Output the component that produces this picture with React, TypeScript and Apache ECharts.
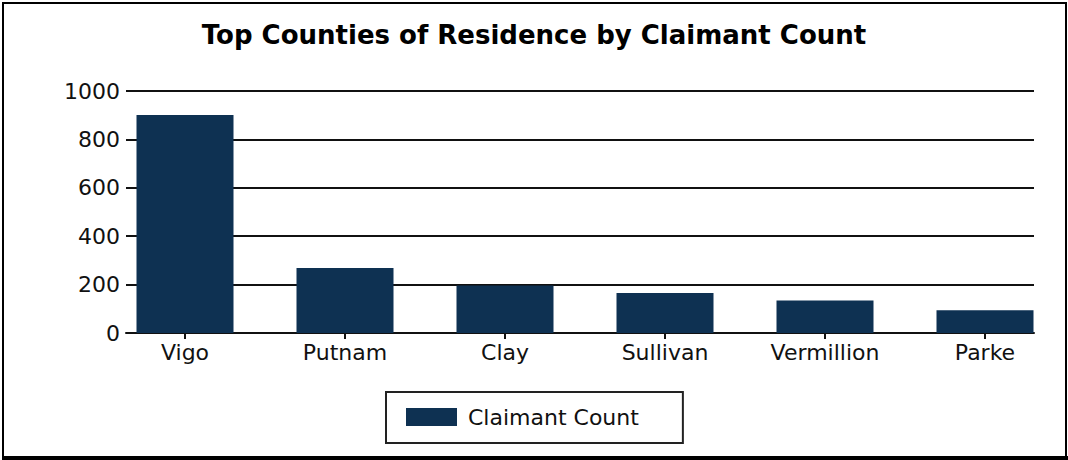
import React, { useEffect, useRef } from "react";
import * as echarts from "echarts";

const categories = ["Vigo", "Putnam", "Clay", "Sullivan", "Vermillion", "Parke"];
const claimantCount = [901, 269, 196, 165, 134, 94];
const yTicks = [0, 200, 400, 600, 800, 1000];
const titleText = "Top Counties of Residence by Claimant Count";
const seriesName = "Claimant Count";

const FONT = "DejaVu Sans";
const BAR = "#0e3152";

export default function App() {
  const ref = useRef<HTMLDivElement>(null);
  useEffect(() => {
    const chart = echarts.init(ref.current!, null, { renderer: "svg" });
    chart.setOption({
      animation: false,
      backgroundColor: "#fff",
      title: {
        text: titleText,
        left: "center",
        top: 17,
        textStyle: { fontFamily: FONT, fontSize: 26, fontWeight: "bold", color: "#000" },
      },
      legend: {
        data: [seriesName],
        left: 386,
        top: 392,
        orient: "horizontal",
        padding: [14, 44, 15, 20],
        borderColor: "#222",
        borderWidth: 2,
        itemWidth: 51,
        itemHeight: 18,
        icon: "rect",
        textStyle: { fontFamily: FONT, fontSize: 22, color: "#111", padding: [0, 0, 0, 6] },
      },
      grid: [
        { left: 126, right: 34, top: 91, bottom: 127, containLabel: false },
        { left: 105, width: 960, top: 91, bottom: 127, containLabel: false },
      ],
      xAxis: [
        {
          type: "category",
          gridIndex: 0,
          data: categories,
          axisLine: { show: true, lineStyle: { color: "#111", width: 2 } },
          axisTick: { show: false },
          axisLabel: { show: false },
          splitLine: { show: false },
        },
        {
          type: "category",
          gridIndex: 1,
          data: categories,
          axisLine: { show: false },
          axisTick: { show: true, alignWithLabel: true, length: 6, lineStyle: { color: "#111", width: 2 } },
          axisLabel: { fontFamily: FONT, fontSize: 22, color: "#111", margin: 8 },
          splitLine: { show: false },
        },
      ],
      yAxis: [
        {
          type: "value",
          gridIndex: 0,
          min: yTicks[0],
          max: yTicks[yTicks.length - 1],
          interval: 200,
          axisLine: { show: false },
          axisTick: { show: false },
          axisLabel: {
            fontFamily: FONT,
            fontSize: 22,
            color: "#111",
            margin: 6,
            formatter: (v: number) => String(v),
          },
          splitLine: { show: true, lineStyle: { color: "#111", width: 2 } },
        },
        {
          type: "value",
          gridIndex: 1,
          min: yTicks[0],
          max: yTicks[yTicks.length - 1],
          interval: 200,
          show: false,
          splitLine: { show: false },
        },
      ],
      series: [
        {
          name: seriesName,
          type: "bar",
          xAxisIndex: 1,
          yAxisIndex: 1,
          data: claimantCount,
          barWidth: 97,
          itemStyle: { color: BAR },
        },
      ],
      graphic: [
        { type: "rect", shape: { x: 3, y: 3, width: 1063, height: 455 }, style: { fill: "none", stroke: "#000", lineWidth: 2 }, z: 100 },
        { type: "rect", shape: { x: 2, y: 456, width: 1066, height: 4 }, style: { fill: "#000" }, z: 100 },
      ],
    });
    return () => chart.dispose();
  }, []);
  return <div ref={ref} style={{ position: "fixed", left: 0, top: 0, width: 1068, height: 460 }} />;
}
